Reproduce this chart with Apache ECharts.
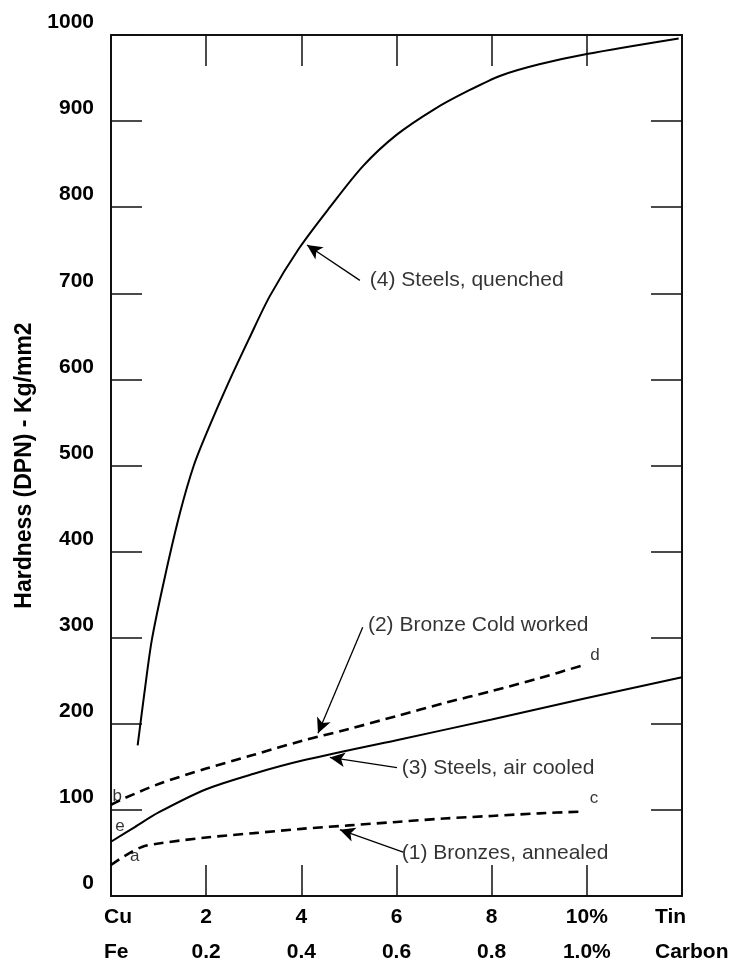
<!DOCTYPE html>
<html>
<head>
<meta charset="utf-8">
<script src="https://cdn.jsdelivr.net/npm/echarts@6/dist/echarts.min.js"></script>
<style>html,body{margin:0;padding:0;background:#fff;overflow:hidden}#c{width:745px;height:964px}</style>
</head>
<body>
<div id="c"></div>
<script>
// Tick labels (two rows under the x axis)
const tinLabels = ['Cu', '2', '4', '6', '8', '10%', 'Tin'];
const carbonLabels = ['Fe', '0.2', '0.4', '0.6', '0.8', '1.0%', 'Carbon'];
const yTitle = 'Hardness (DPN) - Kg/mm2';

// Curves: [tin %, hardness]
const bronzeAnnealed = [[0,36],[0.3,47],[0.65,57],[1,61],[2,68],[3,73],[4,78],[5,82],[6,86],[7,90],[8,93],[9,96],[9.85,98]];
const bronzeColdWorked = [[0,106],[0.3,114],[1,130],[2,148],[3,164],[4,180],[5,194],[6,209],[7,224],[8,238],[9,253],[9.92,268]];
const steelAirCooled = [[0,63],[0.5,80],[1,97],[2,124],[3,142],[4,157],[6,181],[8,205],[10,230],[12,254]];
const steelQuenched = [[0.56,175],[0.7,235],[0.86,298],[1.13,370],[1.45,445],[1.74,500],[2.05,543],[2.46,595],[2.9,647],[3.34,697],[3.95,752],[4.6,800],[5.3,848],[6.0,884],[6.8,914],[7.5,935],[8.2,953],[9.0,966],[10,978],[11.93,996]];

// Annotations
const noteTexts = ['(1) Bronzes, annealed', '(2) Bronze Cold worked', '(3) Steels, air cooled', '(4) Steels, quenched'];
const notePos = [[6.11,50],[5.40,315],[6.11,149],[5.44,715]];
const arrowFrom = [[6.14,51],[5.29,312],[6.01,149],[5.23,715]];
const arrowTo = [[4.81,77],[4.35,189],[4.60,161],[4.12,756]];
const letterNames = ['a','b','c','d','e'];
const letterPos = [[0.5,46],[0.13,116],[10.15,114],[10.17,280],[0.19,81]];

const FONT = '"Liberation Sans", Arial, sans-serif';
const chart = echarts.init(document.getElementById('c'), null, {renderer: 'canvas'});

const axisLine = {show: true, onZero: false, lineStyle: {color: '#111', width: 2}};
const tick = {show: true, inside: true, length: 31, lineStyle: {color: '#111', width: 1.5}};

const solid = {color: '#000', width: 2};
const dashed = {color: '#000', width: 2.6, type: [10, 6]};

function curve(data, ls) {
  return {type: 'line', data: data, smooth: 0.3, showSymbol: false, symbol: 'none',
          lineStyle: ls, itemStyle: {color: '#000'}, silent: true, z: 3};
}

const option = {
  animation: false,
  backgroundColor: '#fff',
  grid: {left: 111, right: 63, top: 35, bottom: 68, containLabel: false, outerBoundsMode: 'none'},
  xAxis: [
    {type: 'value', min: 0, max: 12, interval: 2, position: 'bottom',
     axisLine: axisLine, axisTick: tick, splitLine: {show: false},
     axisLabel: {show: true, showMinLabel: false, showMaxLabel: false, margin: 4,
       formatter: function (v) { const i = Math.round(v / 2); if (i <= 0 || i >= 6) return ''; return tinLabels[i] + '\n' + carbonLabels[i]; },
       color: '#000', fontFamily: FONT, fontWeight: 'bold', fontSize: 21, lineHeight: 35, verticalAlign: 'top'}},
    {type: 'value', min: 0, max: 12, interval: 2, position: 'top',
     axisLine: axisLine, axisTick: tick, splitLine: {show: false}, axisLabel: {show: false}}
  ],
  yAxis: [
    {type: 'value', min: 0, max: 1000, interval: 100, position: 'left',
     axisLine: axisLine, axisTick: tick, splitLine: {show: false},
     name: yTitle, nameLocation: 'middle', nameRotate: 90, nameGap: 72,
     nameTextStyle: {color: '#000', fontFamily: FONT, fontWeight: 'bold', fontSize: 23},
     axisLabel: {margin: 17, color: '#000', fontFamily: FONT, fontWeight: 'bold', fontSize: 21,
       formatter: function (v) { return String(v); },
       verticalAlign: 'bottom', padding: [0, 0, 2, 0]}},
    {type: 'value', min: 0, max: 1000, interval: 100, position: 'right',
     axisLine: axisLine, axisTick: tick, splitLine: {show: false}, axisLabel: {show: false}}
  ],
  series: [
    curve(bronzeAnnealed, dashed),
    curve(bronzeColdWorked, dashed),
    curve(steelAirCooled, solid),
    curve(steelQuenched, solid),
    {type: 'line', data: [], silent: true, z: 4,
     markLine: {silent: true, symbol: ['none', 'arrow'], symbolSize: [11, 15], animation: false,
       lineStyle: {color: '#000', width: 1.3, type: 'solid'}, label: {show: false},
       emphasis: {disabled: true},
       data: arrowFrom.map((p, i) => [{coord: p}, {coord: arrowTo[i]}])}},
    {type: 'scatter', symbolSize: 0, silent: true, z: 5,
     data: noteTexts.map((t, i) => ({name: t, value: notePos[i]})),
     label: {show: true, position: 'right', distance: 0, formatter: '{b}', color: '#000',
       fontFamily: FONT, fontSize: 21}},
    {type: 'scatter', symbolSize: 0, silent: true, z: 5,
     data: letterNames.map((t, i) => ({name: t, value: letterPos[i]})),
     label: {show: true, position: 'inside', formatter: '{b}', color: '#000',
       fontFamily: FONT, fontSize: 17}}
  ]
};
chart.setOption(option);

// end labels of the x axis, left-aligned like the original
const p0 = chart.convertToPixel({xAxisIndex: 0, yAxisIndex: 0}, [0, 0]);
const p1 = chart.convertToPixel({xAxisIndex: 0, yAxisIndex: 0}, [12, 0]);
function lbl(x, y, t) {
  return {type: 'text', x: x, y: y, silent: true,
          style: {text: t, fill: '#000', font: 'bold 21px ' + FONT, align: 'left', verticalAlign: 'middle',
                  textAlign: 'left', textVerticalAlign: 'middle'}};
}
chart.setOption({graphic: [
  lbl(p0[0] - 7, p0[1] + 21, tinLabels[0]),
  lbl(p0[0] - 7, p0[1] + 56, carbonLabels[0]),
  lbl(p1[0] - 27, p0[1] + 21, tinLabels[6]),
  lbl(p1[0] - 27, p0[1] + 56, carbonLabels[6])
]});
</script>
</body>
</html>
